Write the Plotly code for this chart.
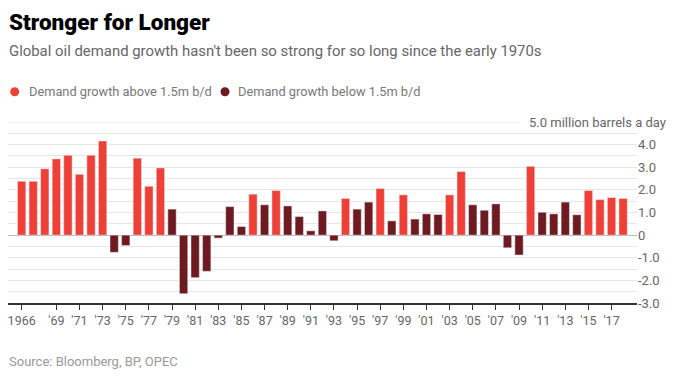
import plotly.graph_objects as go

years = list(range(1966, 2019))
growth = [2.38, 2.38, 2.93, 3.37, 3.53, 2.69, 3.53, 4.16, -0.76, -0.46,
          3.40, 2.16, 2.97, 1.15, -2.59, -1.88, -1.60, -0.13, 1.26, 0.38,
          1.81, 1.34, 1.97, 1.29, 0.82, 0.19, 1.07, -0.25, 1.62, 1.15,
          1.46, 2.06, 0.63, 1.78, 0.71, 0.94, 0.91, 1.78, 2.81, 1.34,
          1.10, 1.38, -0.56, -0.88, 3.04, 1.01, 0.94, 1.46, 0.90, 1.97,
          1.57, 1.66, 1.62]
threshold = 1.5

x_tickvals = [1966] + list(range(1969, 2018, 2))
x_ticktext = ["1966"] + ["'" + str(y)[2:] for y in range(1969, 2018, 2)]

y_tickvals = [v / 2 for v in range(-6, 10)]
y_ticktext = [("0" if v == 0 else f"{v:.1f}") if float(v).is_integer() else "" for v in y_tickvals]

LIGHT = "#EE4037"
DARK = "#6D1A20"

above_x = [y for y, g in zip(years, growth) if g > threshold]
above_y = [g for g in growth if g > threshold]
below_x = [y for y, g in zip(years, growth) if g <= threshold]
below_y = [g for g in growth if g <= threshold]

fig = go.Figure()
fig.add_trace(go.Bar(x=above_x, y=above_y, marker_color=LIGHT, width=0.72,
                     name="Demand growth above 1.5m b/d", showlegend=False))
fig.add_trace(go.Bar(x=below_x, y=below_y, marker_color=DARK, width=0.72,
                     name="Demand growth below 1.5m b/d", showlegend=False))

# page has an 8px body margin; figure sized/offset to compensate
OFF = 8
W, H = 680 - OFF, 377 - OFF
L, R, T, B = 0, 43, 114, 74
pw, ph = W - L - R, H - T - B

def px(x):  # page x -> paper
    return (x - OFF - L) / pw

def py(y):  # page y -> paper
    return (H - B - (y - OFF)) / ph

body = "Roboto, Arial, sans-serif"

fig.update_layout(
    width=W, height=H,
    margin=dict(l=L, r=R, t=T, b=B, pad=0),
    paper_bgcolor="white", plot_bgcolor="white",
    barmode="overlay",
    font=dict(family=body, size=12, color="#666666"),
    xaxis=dict(range=[1964.82, 2019.2], tickvals=x_tickvals, ticktext=x_ticktext,
               showgrid=False, zeroline=False, showline=True, linecolor="#333333",
               linewidth=1.5, ticks="outside", ticklen=5, tickcolor="#333333",
               tickwidth=1, tickfont=dict(size=12.5, color="#666666"),
               ticklabeloverflow="allow", fixedrange=True),
    yaxis=dict(range=[-3, 5], tickvals=y_tickvals, ticktext=y_ticktext, side="right",
               showgrid=True, gridcolor="#E6E6E6", gridwidth=1,
               zeroline=True, zerolinecolor="#BBBBBB", zerolinewidth=1,
               ticks="", tickfont=dict(size=13, color="#666666"), fixedrange=True),
    showlegend=False,
)

shapes = [
    dict(type="line", xref="paper", yref="y", x0=0, x1=px(520), y0=5, y1=5,
         line=dict(color="#E6E6E6", width=1)),
    dict(type="circle", xref="paper", yref="paper", xsizemode="pixel", ysizemode="pixel",
         xanchor=px(14.7), yanchor=py(91.7), x0=-4.5, x1=4.5, y0=-4.5, y1=4.5,
         fillcolor=LIGHT, line=dict(width=0)),
    dict(type="circle", xref="paper", yref="paper", xsizemode="pixel", ysizemode="pixel",
         xanchor=px(225), yanchor=py(91.7), x0=-4.5, x1=4.5, y0=-4.5, y1=4.5,
         fillcolor=DARK, line=dict(width=0)),
]
fig.update_layout(shapes=shapes)

annotations = [
    dict(text="Stronger for Longer", x=px(7), y=py(22), xref="paper", yref="paper",
         xanchor="left", yanchor="middle", showarrow=False,
         font=dict(family="Roboto, sans-serif", size=22.5, color="#000000", weight=900)),
    dict(text="Global oil demand growth hasn't been so strong for so long since the early 1970s",
         x=px(7), y=py(51), xref="paper", yref="paper", xanchor="left", yanchor="middle",
         showarrow=False, font=dict(family=body, size=14.9, color="#666666")),
    dict(text="Demand growth above 1.5m b/d", x=px(27), y=py(91.7), xref="paper", yref="paper",
         xanchor="left", yanchor="middle", showarrow=False,
         font=dict(family=body, size=12.8, color="#777777")),
    dict(text="Demand growth below 1.5m b/d", x=px(236), y=py(91.7), xref="paper", yref="paper",
         xanchor="left", yanchor="middle", showarrow=False,
         font=dict(family=body, size=12.8, color="#777777")),
    dict(text="5.0 million barrels a day", x=px(668), y=5, xref="paper", yref="y",
         xanchor="right", yanchor="middle", showarrow=False,
         font=dict(family=body, size=13, color="#666666")),
    dict(text="Source: Bloomberg, BP, OPEC", x=px(7), y=py(361), xref="paper", yref="paper",
         xanchor="left", yanchor="middle", showarrow=False,
         font=dict(family=body, size=13, color="#999999")),
]
fig.update_layout(annotations=annotations)

fig.write_html("out.html", config={"displayModeBar": False})
